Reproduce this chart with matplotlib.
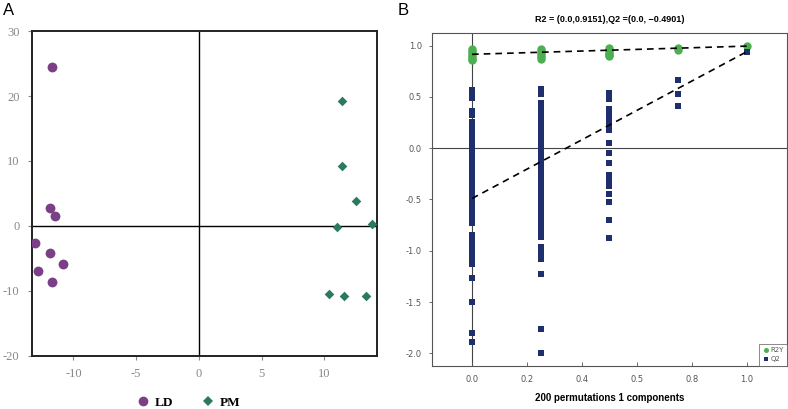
import matplotlib
matplotlib.use("Agg")
import matplotlib.pyplot as plt
from matplotlib.lines import Line2D

plt.rcParams["axes.unicode_minus"] = False

# ---------------- Panel A data (score plot) ----------------
ld_x = [-11.7, -11.9, -11.5, -13.1, -11.9, -10.8, -12.8, -11.7]
ld_y = [24.5, 2.7, 1.6, -2.6, -4.2, -5.9, -7.0, -8.6]
pm_x = [11.4, 11.4, 12.5, 11.0, 13.8, 10.4, 11.6, 13.3]
pm_y = [19.2, 9.3, 3.8, -0.1, 0.3, -10.5, -10.7, -10.8]
a_xticks = [-10, -5, 0, 5, 10]
a_yticks = [-20, -10, 0, 10, 20, 30]

# ---------------- Panel B data (permutation test) ----------------
r2y_x = [0.0]*7 + [0.25]*6 + [0.5]*6 + [0.75]*2 + [1.0]
r2y_y = [0.97, 0.95, 0.93, 0.91, 0.89, 0.87, 0.86,
         0.97, 0.95, 0.93, 0.91, 0.89, 0.87,
         0.98, 0.96, 0.94, 0.92, 0.91, 0.90,
         0.975, 0.96,
         0.995]

q2_col0 = [0.57, 0.53, 0.49,
           0.36, 0.32, 0.26, 0.21, 0.16, 0.12, 0.08, 0.03, -0.02, -0.06, -0.11,
           -0.15, -0.19, -0.24, -0.28, -0.33, -0.37, -0.42, -0.46, -0.50, -0.55,
           -0.59, -0.64, -0.68, -0.73,
           -0.85, -0.90, -0.95, -1.00, -1.04, -1.09, -1.13,
           -1.27, -1.50, -1.80, -1.89]
q2_col25 = [0.58, 0.53,
            0.44, 0.40, 0.35, 0.31, 0.26, 0.22, 0.17, 0.13, 0.08, 0.04, -0.01,
            -0.05, -0.10, -0.14, -0.19, -0.23, -0.28, -0.32, -0.37, -0.41, -0.46,
            -0.50, -0.55, -0.59, -0.64, -0.68, -0.73, -0.77, -0.82, -0.865,
            -0.96, -1.02, -1.08,
            -1.23, -1.76, -2.00]
q2_col50 = [0.54, 0.48, 0.38, 0.33, 0.28, 0.23, 0.18, 0.05, -0.05, -0.14,
            -0.26, -0.31, -0.37, -0.45, -0.52, -0.70, -0.88]
q2_col75 = [0.665, 0.53, 0.415]
q2_col100 = [0.94]
q2_x = [0.0]*len(q2_col0) + [0.25]*len(q2_col25) + [0.5]*len(q2_col50) + \
       [0.75]*len(q2_col75) + [1.0]*len(q2_col100)
q2_y = q2_col0 + q2_col25 + q2_col50 + q2_col75 + q2_col100

r2_line_x = [0.0, 1.0]
r2_line_y = [0.9151, 0.995]
q2_line_x = [0.0, 1.0]
q2_line_y = [-0.4901, 0.94]
b_xticks = [0.0, 0.2, 0.4, 0.6, 0.8, 1.0]
b_xticklabels = ["0.0", "0.2", "0.4", "0.5", "0.8", "1.0"]
b_yticks = [-2.0, -1.5, -1.0, -0.5, 0.0, 0.5, 1.0]

purple = "#7b3f88"
teal = "#2b7a5e"
green = "#4caf50"
navy = "#1f2f6e"

fig = plt.figure(figsize=(7.88, 4.09), dpi=100)

# ---------------- Panel A ----------------
axA = fig.add_axes([0.0406, 0.1296, 0.4378, 0.7946])
axA.axhline(0, color="black", lw=1.0, zorder=1)
axA.axvline(0, color="black", lw=1.0, zorder=1)
axA.scatter(ld_x, ld_y, marker="o", s=50, color=purple, zorder=3, linewidths=0)
axA.scatter(pm_x, pm_y, marker="D", s=24, color=teal, zorder=3, linewidths=0)
axA.set_xlim(-13.3, 14.2)
axA.set_ylim(-20, 30)
axA.set_xticks(a_xticks)
axA.set_yticks(a_yticks)
for s in axA.spines.values():
    s.set_linewidth(1.4)
    s.set_color("#222222")
axA.tick_params(axis="both", direction="out", length=3, width=0.8, color="#888888",
                labelcolor="#888888", labelsize=9, pad=6)
for lab in axA.get_xticklabels() + axA.get_yticklabels():
    lab.set_family("Liberation Serif")

handles = [Line2D([], [], marker="o", ls="none", color=purple, markersize=7, markeredgewidth=0),
           Line2D([], [], marker="D", ls="none", color=teal, markersize=5, markeredgewidth=0)]
fig.legend(handles, ["LD", "PM"], loc="center", bbox_to_anchor=(0.238, 0.016), ncol=2,
           frameon=False, prop={"family": "Liberation Serif", "weight": "bold", "size": 9.5},
           handletextpad=0.3, columnspacing=2.0, handlelength=1.2)

fig.text(0.004, 0.975, "A", fontsize=12, ha="left", va="center", family="Liberation Sans")
fig.text(0.505, 0.975, "B", fontsize=12, ha="left", va="center", family="Liberation Sans")

# ---------------- Panel B ----------------
axB = fig.add_axes([0.5478, 0.1059, 0.4513, 0.8127])
axB.axhline(0, color="#444444", lw=0.8, zorder=1)
axB.axvline(0, color="#444444", lw=0.8, zorder=1)
axB.plot(r2y_x, r2y_y, ls="none", marker="o", markersize=6.0, color=green,
         markeredgewidth=0, zorder=3, label="R2Y")
axB.plot(q2_x, q2_y, ls="none", marker="s", markersize=5.0, color=navy,
         markeredgewidth=0, zorder=3, label="Q2")
axB.plot(r2_line_x, r2_line_y, color="black", ls=(0, (4, 3)), lw=1.2, zorder=4)
axB.plot(q2_line_x, q2_line_y, color="black", ls=(0, (4, 3)), lw=1.2, zorder=4)
axB.set_xlim(-0.147, 1.148)
axB.set_ylim(-2.12, 1.12)
axB.set_xticks(b_xticks)
axB.set_xticklabels(b_xticklabels)
axB.set_yticks(b_yticks)
axB.set_yticklabels([f"{v:.1f}" for v in b_yticks])
for s in axB.spines.values():
    s.set_linewidth(0.8)
    s.set_color("#555555")
axB.tick_params(axis="x", direction="in", length=3, width=0.6, color="#555555",
                labelcolor="#555555", labelsize=6, pad=7)
axB.tick_params(axis="y", direction="out", length=2, width=0.6, color="#555555",
                labelcolor="#555555", labelsize=6, pad=5)
axB.set_title("R2 = (0.0,0.9151),Q2 =(0.0, \u22120.4901)", fontsize=6.5,
              fontweight="bold", pad=8, family="Liberation Sans")
axB.set_xlabel("200 permutations 1 components", fontsize=7, fontweight="bold",
               labelpad=6, family="Liberation Sans")
legB = axB.legend(loc="lower right", fontsize=5, frameon=True, fancybox=False,
                  borderpad=0.5, handletextpad=0.2, markerscale=0.6, handlelength=1.0,
                  borderaxespad=0.0, labelspacing=0.4)
legB.get_frame().set_edgecolor("#555555")
legB.get_frame().set_linewidth(0.6)
for t in legB.get_texts():
    t.set_color("#555555")

fig.savefig("out.png", dpi=100)
